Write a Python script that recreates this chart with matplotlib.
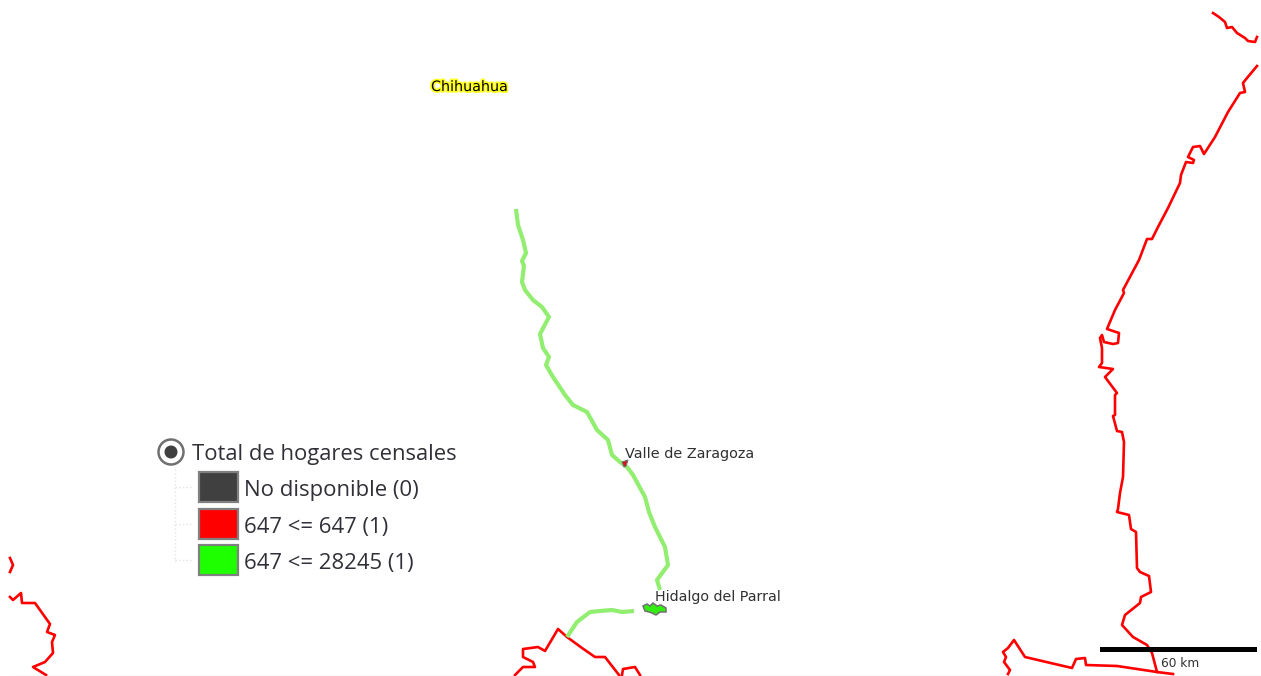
import matplotlib
matplotlib.use("Agg")
import matplotlib.pyplot as plt
import matplotlib.patheffects as pe
from matplotlib.patches import Circle, Rectangle, Polygon

# map outlines (pixel positions of the map view)
border_right_top = [(1213, 13), (1219, 17), (1225, 22), (1227, 28), (1232, 27), (1237, 33), (1245, 38), (1248, 41), (1255, 42), (1257, 37)]
border_right = [(1257, 66), (1247, 78), (1243, 83), (1245, 92), (1240, 93), (1228, 112), (1215, 137), (1204, 154),
                (1200, 146), (1193, 147), (1188, 157), (1194, 160), (1193, 163), (1186, 162), (1181, 175), (1180, 183),
                (1168, 208), (1158, 227), (1152, 239), (1147, 239), (1139, 260), (1123, 290), (1124, 293), (1115, 310), (1107, 329),
                (1119, 333), (1118, 343), (1113, 344), (1104, 342), (1102, 335), (1100, 338), (1102, 348), (1102, 363),
                (1099, 367), (1113, 369), (1105, 377), (1117, 393), (1115, 395), (1115, 415), (1113, 416), (1117, 431), (1122, 432),
                (1124, 442), (1123, 477), (1120, 493), (1118, 509), (1117, 512), (1129, 515), (1131, 529), (1136, 532),
                (1137, 568), (1140, 572), (1149, 576), (1151, 592), (1141, 597), (1140, 603), (1125, 615), (1122, 625),
                (1133, 637), (1147, 645), (1152, 653), (1157, 672), (1173, 674)]
border_bottom_right = [(1008, 674), (1010, 670), (1004, 662), (1006, 657), (1003, 652), (1008, 648), (1014, 640),
                       (1025, 657), (1072, 668), (1076, 659), (1085, 658), (1086, 665), (1117, 666), (1157, 672)]
border_left_a = [(10, 558), (13, 565), (10, 572)]
border_left_b = [(10, 597), (13, 600), (21, 593), (22, 603), (35, 603), (50, 624), (47, 632), (55, 635), (52, 642),
                 (53, 653), (45, 662), (33, 667), (46, 675)]
border_mid_a = [(515, 675), (523, 667), (535, 667), (533, 662), (523, 657), (523, 649), (538, 647), (545, 651),
                (558, 629), (567, 637), (582, 648), (595, 657), (605, 657), (619, 675)]
border_mid_b = [(622, 675), (623, 669), (635, 667), (640, 675)]
red_lines = [border_right_top, border_right, border_bottom_right, border_left_a, border_left_b, border_mid_a, border_mid_b]

road_north = [(516, 209), (518, 225), (523, 240), (526, 253), (522, 261), (524, 266), (522, 282), (525, 290), (533, 300),
              (542, 307), (549, 317), (540, 334), (543, 348), (549, 357), (546, 365), (553, 377), (565, 395), (573, 405),
              (587, 412), (597, 430), (608, 440), (612, 455), (620, 462), (627, 467), (633, 475), (645, 497), (649, 512),
              (655, 527), (665, 547), (668, 565), (657, 580), (660, 590)]
road_south = [(634, 611), (622, 612), (612, 610), (600, 611), (590, 612), (577, 622), (567, 637)]

parral_shape = [(643, 606), (647, 604), (650, 606), (653, 603), (657, 606), (661, 605), (666, 608), (666, 612), (660, 612),
                (656, 615), (652, 613), (649, 612), (645, 611)]
zaragoza_shape = [(622, 462), (628, 460), (626, 466), (624, 467)]

legend_title = "Total de hogares censales"
legend_labels = ["No disponible (0)", "647 <= 647 (1)", "647 <= 28245 (1)"]
legend_colors = ["#404040", "#ff0000", "#1eff00"]
legend_tops = [472, 509, 545]

fig = plt.figure(figsize=(12.61, 6.76), dpi=100)
ax = fig.add_axes([0, 0, 1, 1])
ax.set_xlim(0, 1261)
ax.set_ylim(676, 0)
ax.axis("off")

for line in red_lines:
    xs, ys = zip(*line)
    ax.plot(xs, ys, color="#ff0000", lw=1.9, solid_joinstyle="round", zorder=2)
for line in [road_north, road_south]:
    xs, ys = zip(*line)
    ax.plot(xs, ys, color="#92ee70", lw=3, solid_capstyle="butt", zorder=3)

ax.add_patch(Polygon(parral_shape, fc="#33ee11", ec="#707070", lw=1.1, zorder=4))
ax.add_patch(Polygon(zaragoza_shape, fc="#e0101a", ec="#707070", lw=0.8, zorder=4))

# bottom edge of the view
ax.plot([10, 1261], [675.5, 675.5], color="#ececec", lw=1, zorder=1)

# place names
ax.text(431, 91, "Chihuahua", fontsize=10.3, family="DejaVu Sans", color="black", va="baseline",
        path_effects=[pe.withStroke(linewidth=2.5, foreground="#ffff20")], zorder=6)
ax.text(625, 458, "Valle de Zaragoza", fontsize=10.4, family="DejaVu Sans", color="#303030", va="baseline", zorder=6)
ax.text(655, 601, "Hidalgo del Parral", fontsize=10.3, family="DejaVu Sans", color="#303030", va="baseline", zorder=6)

# scale bar
ax.add_patch(Rectangle((1100, 647), 157, 5, fc="black", ec="none", zorder=5))
ax.text(1161, 667, "60 km", fontsize=8.7, family="DejaVu Sans", color="#303030", va="baseline", zorder=6)

# legend
ax.add_patch(Circle((171, 452), 12.5, fc="white", ec="#707070", lw=1.8, zorder=5))
ax.add_patch(Circle((171, 452), 6.5, fc="#404040", ec="none", zorder=6))
ax.text(192, 460, legend_title, fontsize=15.8, family="Open Sans", color="#303038", va="baseline", zorder=6)
ax.plot([175, 175], [469, 562], color="#e4e4e4", lw=1, ls=":", zorder=1)
for top, label, color in zip(legend_tops, legend_labels, legend_colors):
    ax.plot([175, 193], [top + 15, top + 15], color="#e4e4e4", lw=1, ls=":", zorder=1)
    ax.add_patch(Rectangle((198.5, top), 39, 29.5, fc=color, ec="#808080", lw=1.6, zorder=5))
    ax.text(244, top + 24, label, fontsize=15.9, family="Open Sans", color="#303038", va="baseline", zorder=6)

fig.savefig("out.png", dpi=100)
